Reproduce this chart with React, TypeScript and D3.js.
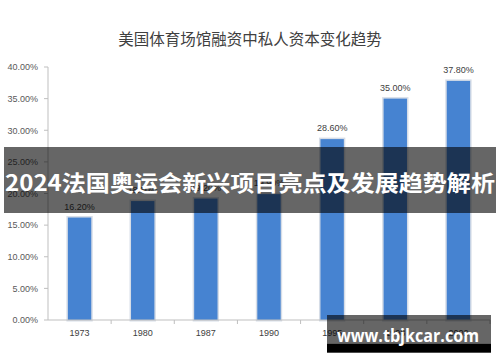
import React from "react";
import * as d3 from "d3";

const title = "美国体育场馆融资中私人资本变化趋势";
const years = ["1973", "1980", "1987", "1990", "1995", "1998", "2002"];
const shares = [16.2, 18.8, 19.2, 19.9, 28.6, 35.0, 37.8];
const yTicks = [0, 5, 10, 15, 20, 25, 30, 35, 40];
const bannerText = "2024法国奥运会新兴项目亮点及发展趋势解析";
const watermark = "www.tbjkcar.com";

const W = 500;
const H = 362;

export default function App() {
  const x = d3.scaleBand<string>().domain(years).range([48, 490]).paddingInner(0.63).paddingOuter(0.315);
  const y = d3.scaleLinear().domain([0, 40]).range([320, 67]);
  const bandEdges = d3.scaleBand<string>().domain(years).range([48, 490]).padding(0);
  const fmt = (v: number) => v.toFixed(2) + "%";
  const font = "'Liberation Sans', Arial, sans-serif";
  const cjk = "'Noto Sans CJK SC', sans-serif";

  return (
    <div style={{ position: "absolute", left: 0, top: 0 }}>
      <svg width={W} height={H} style={{ display: "block", background: "#fff" }}>
        <text x={250} y={45} textAnchor="middle" fontFamily={cjk} fontSize={15.5} fill="#404040">
          {title}
        </text>
        {/* y axis */}
        <line x1={48} x2={48} y1={y(40)} y2={y(0)} stroke="#bfbfbf" />
        {yTicks.map((t) => (
          <g key={t}>
            <line x1={44} x2={48} y1={y(t)} y2={y(t)} stroke="#bfbfbf" />
            <text x={38} y={y(t) + 3.3} textAnchor="end" fontFamily={font} fontSize={9} fill="#595959">
              {fmt(t)}
            </text>
          </g>
        ))}
        {/* bars */}
        {years.map((yr, i) => (
          <g key={yr}>
            <rect
              x={x(yr)}
              y={y(shares[i])}
              width={x.bandwidth()}
              height={y(0) - y(shares[i])}
              fill="#4683d1"
              stroke="#d6dde7"
              strokeWidth={3}
              paintOrder="stroke"
            />
            <text
              x={(x(yr) as number) + x.bandwidth() / 2}
              y={y(shares[i]) - 8}
              textAnchor="middle"
              fontFamily={font}
              fontSize={9}
              fill="#404040"
            >
              {fmt(shares[i])}
            </text>
          </g>
        ))}
        {/* x axis */}
        <line x1={48} x2={490} y1={y(0)} y2={y(0)} stroke="#bfbfbf" />
        {years.map((yr) => (
          <line
            key={"t" + yr}
            x1={(bandEdges(yr) as number) + bandEdges.bandwidth()}
            x2={(bandEdges(yr) as number) + bandEdges.bandwidth()}
            y1={y(0)}
            y2={y(0) + 4}
            stroke="#bfbfbf"
          />
        ))}
        {years.map((yr) => (
          <text
            key={"l" + yr}
            x={(x(yr) as number) + x.bandwidth() / 2}
            y={336}
            textAnchor="middle"
            fontFamily={font}
            fontSize={9}
            fill="#404040"
          >
            {yr}
          </text>
        ))}
        {/* banner overlay */}
        <rect x={4} y={147} width={492} height={66} fill="#000" fillOpacity={0.6} />
        <text
          x={250}
          y={191}
          textAnchor="middle"
          fontFamily={cjk}
          fontWeight={700}
          fontSize={22}
          fill="#fff"
          textLength={490}
          lengthAdjust="spacingAndGlyphs"
        >
          {bannerText}
        </text>
        {/* watermark */}
        <rect x={327} y={315} width={164} height={28.5} fill="#000" fillOpacity={0.6} />
        <rect x={327} y={343.5} width={164} height={9.2} fill="#000" />
        <text
          x={408}
          y={342}
          textAnchor="middle"
          fontFamily="'Open Sans', 'Noto Sans', sans-serif"
          fontWeight={700}
          fontSize={17}
          fill="#fff"
          textLength={142}
          lengthAdjust="spacingAndGlyphs"
        >
          {watermark}
        </text>
      </svg>
    </div>
  );
}
